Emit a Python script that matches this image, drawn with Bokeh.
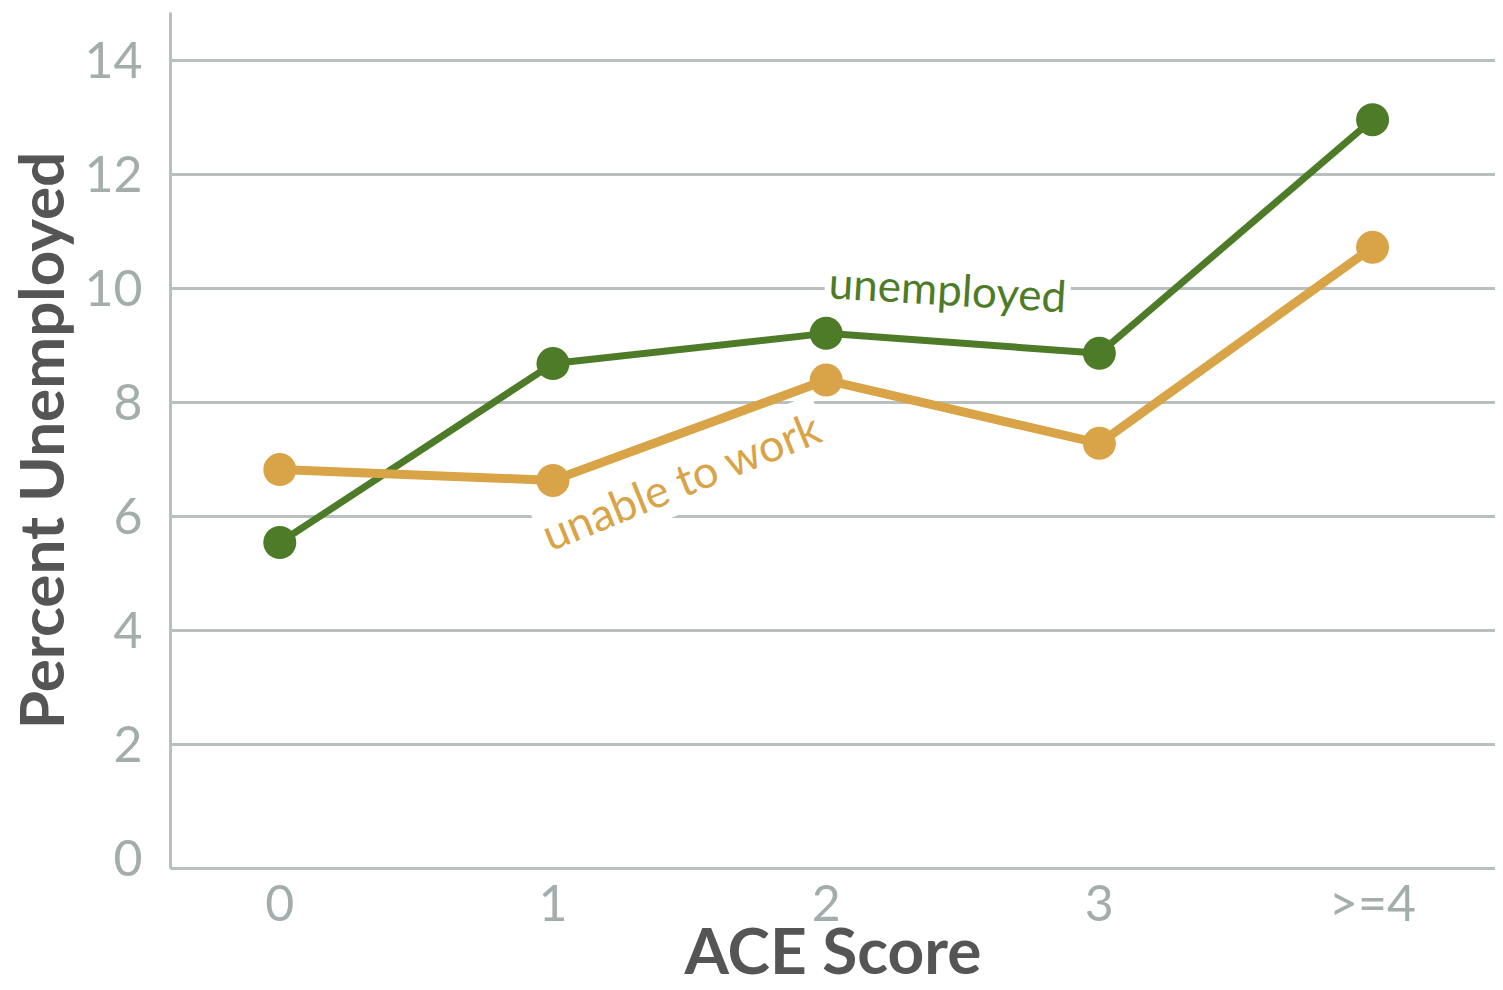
from bokeh.plotting import figure
from bokeh.models import Range1d, FixedTicker, Label, ColumnDataSource
from bokeh.embed import file_html
from bokeh.resources import INLINE

categories = ["0", "1", "2", "3", ">=4"]
unemployed = [5.54, 8.68, 9.21, 8.86, 12.96]
unable_to_work = [6.82, 6.63, 8.39, 7.28, 10.72]
y_ticks = [0, 2, 4, 6, 8, 10, 12, 14]

GREEN = "#4e7b27"
ORANGE = "#d8a447"
GRID = "#b8bfbf"
TICK = "#a3adab"
TITLE = "#555555"
FONT = "Lato"

xs = list(range(len(categories)))
src = ColumnDataSource(dict(x=xs, u=unemployed, w=unable_to_work))

p = figure(width=1495, height=990, output_backend="svg", toolbar_location=None,
           x_range=Range1d(-0.4, 4.45), y_range=Range1d(-0.18, 14.84),
           min_border_left=170, min_border_right=0, min_border_top=12, min_border_bottom=100)
p.outline_line_color = None
p.background_fill_color = "white"

# axes
p.xaxis.ticker = FixedTicker(ticks=xs)
p.xaxis.major_label_overrides = {i: c for i, c in enumerate(categories)}
p.yaxis.ticker = FixedTicker(ticks=y_ticks)
for ax in (p.xaxis[0], p.yaxis[0]):
    ax.axis_line_color = GRID
    ax.axis_line_width = 3
    ax.major_tick_line_color = None
    ax.minor_tick_line_color = None
    ax.major_label_text_font = FONT
    ax.major_label_text_font_size = "50px"
    ax.major_label_text_color = TICK
    ax.axis_label_text_font = FONT
    ax.axis_label_text_font_style = "bold"
    ax.axis_label_text_color = TITLE
p.xaxis.axis_label = "ACE Score"
p.yaxis.axis_label = "Percent Unemployed"
p.xaxis.axis_label_text_font_size = "64px"
p.yaxis.axis_label_text_font_size = "62px"
p.xaxis.major_label_standoff = -3
p.yaxis.major_label_standoff = 22
p.xaxis.axis_label_standoff = -24
p.yaxis.axis_label_standoff = 4

p.xgrid.grid_line_color = None
p.ygrid.ticker = FixedTicker(ticks=y_ticks[1:])
p.ygrid.grid_line_color = GRID
p.ygrid.grid_line_width = 3

# series
p.line("x", "u", source=src, line_color=GREEN, line_width=7)
p.scatter("x", "u", source=src, size=33, fill_color=GREEN, line_color=None)
p.line("x", "w", source=src, line_color=ORANGE, line_width=9)
p.scatter("x", "w", source=src, size=33, fill_color=ORANGE, line_color=None)

# inline labels
p.add_layout(Label(x=2.445, y=10.0, text="unemployed", text_color=GREEN,
                   text_font=FONT, text_font_size="44px", text_align="center",
                   text_baseline="middle", angle=-0.06,
                   background_fill_color="white", padding=4))
p.add_layout(Label(x=1.47, y=6.63, text="unable to work", text_color=ORANGE,
                   text_font=FONT, text_font_size="45px", text_align="center",
                   text_baseline="middle", angle=0.385,
                   background_fill_color="white", padding=4))

open("out.html", "w").write(file_html(p, INLINE))
